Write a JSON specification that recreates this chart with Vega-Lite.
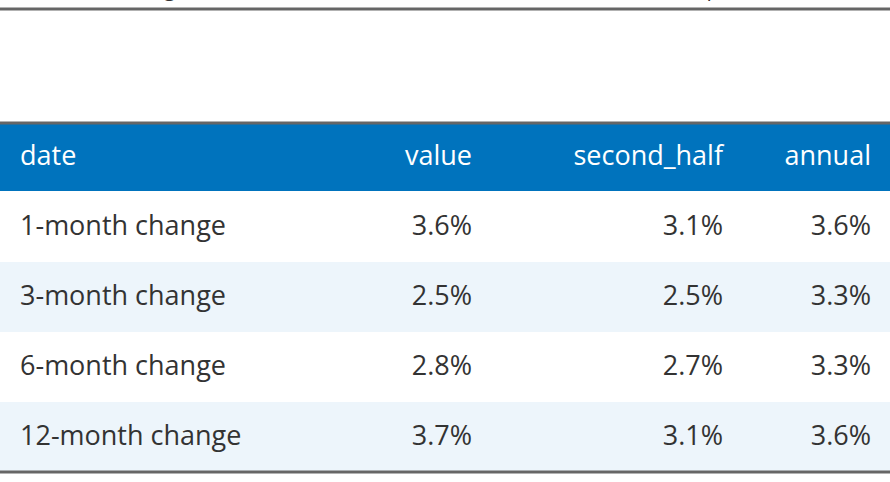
{
  "$schema": "https://vega.github.io/schema/vega-lite/v6.json",
  "width": 890,
  "height": 350,
  "autosize": "none",
  "padding": {"top": 122, "left": 0, "right": 0, "bottom": 10},
  "background": "white",
  "config": {"view": {"stroke": null}, "font": "Open Sans"},
  "title": {
    "text": "What If Inflation Continues as It Does?",
    "subtitle": "Taking the inflation rate over the last X months, into the 4th quarter.",
    "anchor": "middle",
    "fontSize": 30,
    "fontWeight": "bold",
    "color": "#333333",
    "subtitleFontSize": 21,
    "subtitleColor": "#333333",
    "subtitlePadding": 18,
    "offset": 8
  },
  "data": {
    "values": [
      {"date": "date", "value": "value", "second_half": "second_half", "annual": "annual", "kind": "header"},
      {"date": "1-month change", "value": "3.6%", "second_half": "3.1%", "annual": "3.6%", "kind": "odd"},
      {"date": "3-month change", "value": "2.5%", "second_half": "2.5%", "annual": "3.3%", "kind": "even"},
      {"date": "6-month change", "value": "2.8%", "second_half": "2.7%", "annual": "3.3%", "kind": "odd"},
      {"date": "12-month change", "value": "3.7%", "second_half": "3.1%", "annual": "3.6%", "kind": "even"}
    ]
  },
  "encoding": {
    "y": {
      "field": "date",
      "type": "nominal",
      "axis": null,
      "scale": {
        "type": "point",
        "padding": 0.5,
        "domain": ["date", "1-month change", "3-month change", "6-month change", "12-month change"]
      }
    }
  },
  "layer": [
    {
      "transform": [{"filter": "datum.kind == 'even'"}],
      "mark": {"type": "rule", "strokeWidth": 70, "color": "#EDF5FB"}
    },
    {
      "transform": [{"filter": "datum.kind == 'header'"}],
      "mark": {"type": "rule", "strokeWidth": 68, "color": "#0073BD"}
    },
    {
      "transform": [{"filter": "datum.kind == 'header'"}],
      "mark": {"type": "rule", "strokeWidth": 3, "color": "#666666"},
      "encoding": {"y": {"value": 1}}
    },
    {
      "transform": [{"filter": "datum.kind == 'header'"}],
      "mark": {"type": "rule", "strokeWidth": 3, "color": "#666666"},
      "encoding": {"y": {"value": 350}}
    },
    {
      "transform": [{"filter": "datum.kind == 'header'"}],
      "mark": {"type": "rule", "strokeWidth": 3, "color": "#666666"},
      "encoding": {"y": {"value": -113}}
    },
    {
      "mark": {"type": "text", "align": "left", "fontSize": 27},
      "encoding": {
        "x": {"value": 20},
        "text": {"field": "date"},
        "color": {"condition": {"test": "datum.kind == 'header'", "value": "white"}, "value": "#333333"}
      }
    },
    {
      "mark": {"type": "text", "align": "right", "fontSize": 27},
      "encoding": {
        "x": {"value": 472},
        "text": {"field": "value"},
        "color": {"condition": {"test": "datum.kind == 'header'", "value": "white"}, "value": "#333333"}
      }
    },
    {
      "mark": {"type": "text", "align": "right", "fontSize": 27},
      "encoding": {
        "x": {"value": 723},
        "text": {"field": "second_half"},
        "color": {"condition": {"test": "datum.kind == 'header'", "value": "white"}, "value": "#333333"}
      }
    },
    {
      "mark": {"type": "text", "align": "right", "fontSize": 27},
      "encoding": {
        "x": {"value": 871},
        "text": {"field": "annual"},
        "color": {"condition": {"test": "datum.kind == 'header'", "value": "white"}, "value": "#333333"}
      }
    }
  ]
}
